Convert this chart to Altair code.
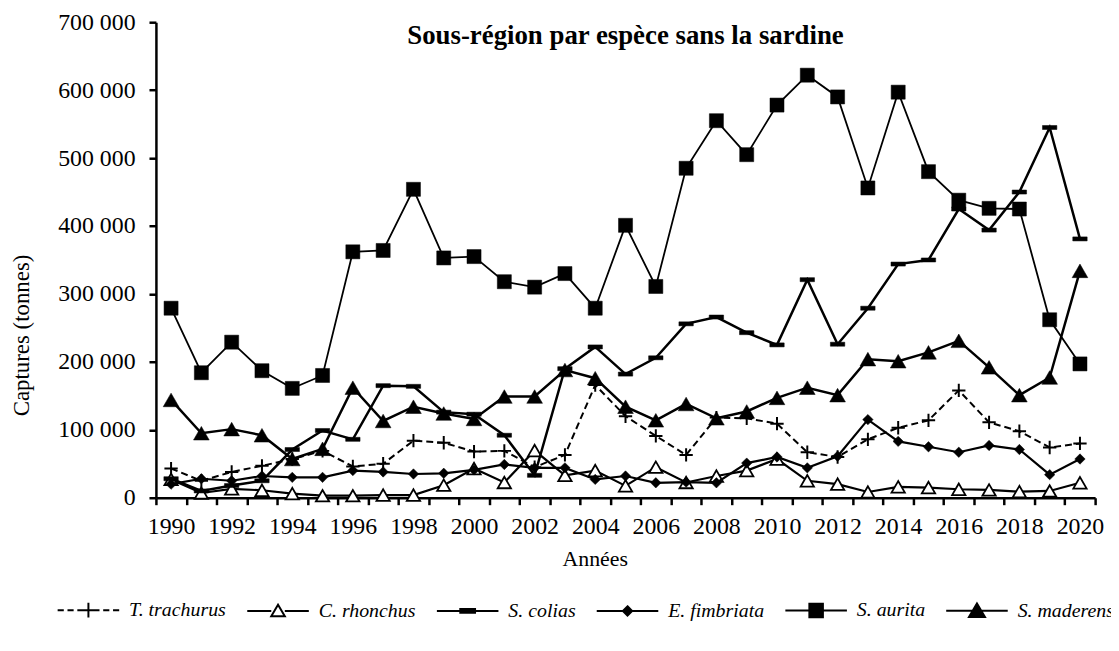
import altair as alt
import pandas as pd

years = list(range(1990, 2021))
species = ["T. trachurus", "C. rhonchus", "S. colias", "E. fimbriata", "S. aurita", "S. maderensis"]

t_trachurus = [43000, 25000, 38000, 47000, 57000, 69000, 46000, 50000, 84000, 81000, 68000,
               69000, 45000, 63000, 166000, 120000, 91000, 63000, 118000, 117000, 109000,
               67000, 60000, 86000, 103000, 114000, 158000, 111000, 98000, 74000, 80000]
c_rhonchus = [27000, 7000, 13000, 11000, 6000, 3000, 3000, 4000, 4000, 18500, 43000,
              22500, 69500, 33000, 40000, 17500, 45000, 22500, 32000, 40000, 57000,
              25000, 20000, 8500, 16000, 15000, 12500, 11500, 9000, 10000, 22000]
s_colias = [28000, 10000, 18000, 25000, 71000, 99000, 86000, 165000, 164000, 126000, 123000,
            92000, 33000, 190000, 222000, 182000, 206000, 256000, 266000, 243000, 225000,
            321000, 226000, 279000, 344000, 350000, 425000, 394000, 450000, 545000, 381000]
e_fimbriata = [20000, 28000, 25000, 32000, 30000, 30000, 40000, 38000, 35000, 36000, 41000,
               49000, 44000, 44000, 27000, 32000, 22000, 23000, 22000, 51000, 60000,
               44000, 61000, 115000, 83000, 75000, 67000, 77000, 71000, 34000, 57000]
s_aurita = [279000, 184000, 229000, 187000, 161000, 180000, 362000, 364000, 454000, 353000, 355000,
            318000, 310000, 330000, 279000, 401000, 311000, 485000, 555000, 505000, 578000,
            622000, 590000, 456000, 597000, 480000, 438000, 426000, 425000, 262000, 197000]
s_maderensis = [144000, 95000, 101000, 92000, 57000, 72000, 162000, 113000, 134000, 124000, 116000,
                149000, 149000, 188000, 176000, 134000, 114000, 138000, 117000, 127000, 147000,
                162000, 151000, 204000, 201000, 214000, 231000, 192000, 151000, 177000, 334000]

series = [t_trachurus, c_rhonchus, s_colias, e_fimbriata, s_aurita, s_maderensis]

rows = []
for sp, vals in zip(species, series):
    for yr, v in zip(years, vals):
        rows.append({"year": yr, "species": sp, "value": v})
df = pd.DataFrame(rows)

FONT = "Liberation Serif"
W, H = 946, 479

PLUS = "M-1,0H1M0,-1V1"
BAR = "M-1,-0.28H1V0.28H-1Z"

styles = {
    "T. trachurus": dict(dash=[7, 4], lw=2, shape=PLUS, fill="none", filled=False, size=180, sw=2),
    "C. rhonchus": dict(dash=None, lw=2.2, shape="triangle-up", fill="white", filled=True, size=180, sw=1.8),
    "S. colias": dict(dash=None, lw=2.5, shape=BAR, fill="black", filled=True, size=210, sw=0.5),
    "E. fimbriata": dict(dash=None, lw=2.2, shape="diamond", fill="black", filled=True, size=110, sw=0.5),
    "S. aurita": dict(dash=None, lw=1.8, shape="square", fill="black", filled=True, size=200, sw=0.5),
    "S. maderensis": dict(dash=None, lw=2.5, shape="triangle-up", fill="black", filled=True, size=250, sw=0.5),
}

x_axis = alt.Axis(
    values=[1989.5 + i for i in range(32)],
    labelExpr="(datum.value + 0.5) % 2 == 0 ? '' + (datum.value + 0.5) : ''",
    labelOffset=W / 31 / 2,
    labelFlush=False,
    labelOverlap=False,
    labelPadding=10,
    title="Années",
    titleX=442,
    titleY=68,
    titleBaseline="alphabetic",
    titleAnchor="start",
    titleAlign="center",
)
y_axis = alt.Axis(
    values=[i * 100000 for i in range(8)],
    labelExpr="replace(format(datum.value, ','), ',', ' ')",
    labelPadding=14,
    title="Captures (tonnes)",
    titleX=-135,
    titleY=315,
    titleBaseline="middle",
    titleAlign="center",
    titleAngle=270,
    titleFontSize=23,
)

x_enc = alt.X("year:Q", scale=alt.Scale(domain=[1989.5, 2020.5], nice=False, zero=False), axis=x_axis)
y_enc = alt.Y("value:Q", scale=alt.Scale(domain=[0, 700000], nice=False), axis=y_axis)

base = alt.Chart(df)
layers = []
for sp in species:
    st = styles[sp]
    sub = base.transform_filter(alt.datum.species == sp)
    line_kwargs = dict(color="black", strokeWidth=st["lw"])
    if st["dash"]:
        line_kwargs["strokeDash"] = st["dash"]
    layers.append(sub.mark_line(**line_kwargs).encode(x=x_enc, y=y_enc))
    pt_kwargs = dict(shape=st["shape"], filled=st["filled"], size=st["size"], stroke="black",
                     strokeWidth=st["sw"], opacity=1)
    if st["filled"]:
        pt_kwargs["fill"] = st["fill"]
    layers.append(sub.mark_point(**pt_kwargs).encode(x=x_enc, y=y_enc))

# legend layer (invisible marks, legend only)
leg_paths = [
    "M-1,0H-0.8M-0.68,0H-0.48M-0.36,0H-0.16M0.16,0H0.36M0.48,0H0.68M0.8,0H1M-0.24,0H0.24M0,-0.24V0.24",
    "M-1,0H-0.22M0.22,0H1M0,-0.2L0.22,0.17L-0.22,0.17Z",
    "M-1,0H1M-0.24,-0.06H0.24V0.06H-0.24Z",
    "M-1,0H1M0,-0.15L0.15,0L0,0.15L-0.15,0Z",
    "M-1,0H1M-0.22,-0.22H0.22V0.22H-0.22Z",
    "M-1,0H1M0,-0.24L0.26,0.2L-0.26,0.2Z",
]
leg_fills = ["black", "white", "black", "black", "black", "black"]
leg_strokes = ["black"] * 6
legend = alt.Legend(
    title=None, orient="none", legendX=-100, legendY=560, direction="horizontal", columns=6,
    symbolSize=3844, symbolStrokeColor="black", symbolStrokeWidth=2, symbolOpacity=1,
    labelFont=FONT, labelFontStyle="italic", labelFontSize=20, labelColor="black",
    labelOffset=9, columnPadding=17, padding=0, labelLimit=0,
)
legend_layer = base.mark_point(filled=True, opacity=0).encode(
    x=x_enc, y=y_enc,
    shape=alt.Shape("species:N", scale=alt.Scale(domain=species, range=leg_paths), legend=legend),
    fill=alt.Fill("species:N", scale=alt.Scale(domain=species, range=leg_fills), legend=legend),
    stroke=alt.Stroke("species:N", scale=alt.Scale(domain=species, range=leg_strokes), legend=legend),
)
layers.append(legend_layer)

chart = alt.layer(*layers).properties(
    width=W, height=H,
    background="white",
    autosize=alt.AutoSizeParams(type="none"),
    padding={"left": 149, "top": 12, "right": 16, "bottom": 144},
    title=alt.TitleParams(
        "Sous-région par espèce sans la sardine", font=FONT, fontSize=27, fontWeight="bold",
        color="black", anchor="middle", frame="group", offset=-27, dy=34, baseline="alphabetic",
    ),
).configure_view(stroke=None).configure_axis(
    domainColor="black", domainWidth=2.5, tickColor="black", tickWidth=2.5, tickSize=7,
    labelFont=FONT, labelFontSize=24, labelColor="black", grid=False,
    titleFont=FONT, titleFontSize=22, titleFontWeight="normal", titleColor="black",
)

chart.save("out.html", embed_options={"renderer": "svg", "actions": False})
